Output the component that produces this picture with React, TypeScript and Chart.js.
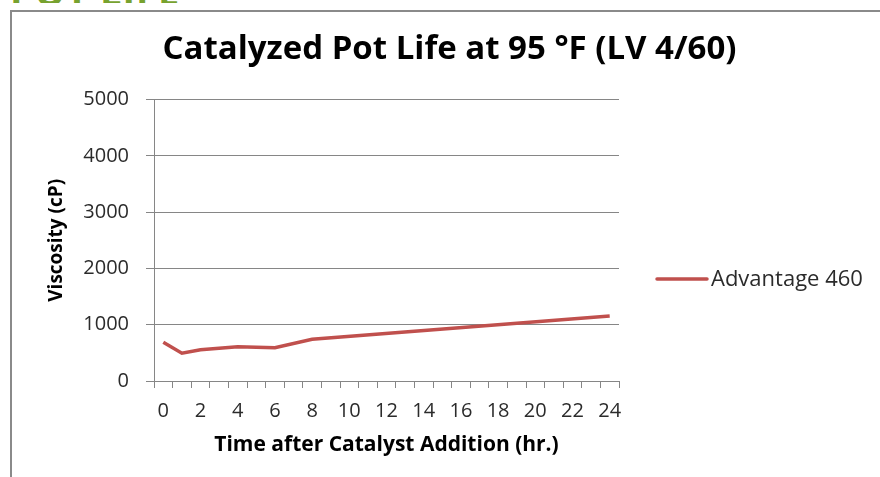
import React, { useEffect, useRef } from "react";
import { Chart, registerables } from "chart.js";

Chart.register(...registerables);

const hours: string[] = ["0","1","2","3","4","5","6","7","8","9","10","11","12","13","14","15","16","17","18","19","20","21","22","23","24"];
const viscosity: (number | null)[] = [690, 495, 555, null, 610, null, 590, null, 740, null, null, null, null, null, null, null, null, null, null, null, null, null, null, null, 1155];
const yTicks: number[] = [0, 1000, 2000, 3000, 4000, 5000];

const seriesName = "Advantage 460";
const chartTitle = "Catalyzed Pot Life at 95 °F (LV 4/60)";
const xTitle = "Time after Catalyst Addition (hr.)";
const yTitle = "Viscosity (cP)";

const FONT = "'Open Sans', sans-serif";
const AXIS = "#868686";

const legendPlugin = {
  id: "sideLegend",
  afterDraw(chart: any) {
    const { ctx, chartArea } = chart;
    const ds = chart.data.datasets[0];
    const y = 279;
    const x0 = chartArea.right + 38;
    ctx.save();
    ctx.strokeStyle = ds.borderColor;
    ctx.lineWidth = 3.5;
    ctx.lineCap = "round";
    ctx.beginPath();
    ctx.moveTo(x0, y);
    ctx.lineTo(x0 + 50, y);
    ctx.stroke();
    ctx.fillStyle = "#2b2b2b";
    ctx.font = `22px ${FONT}`;
    ctx.textBaseline = "middle";
    ctx.textAlign = "left";
    ctx.fillText(ds.label, x0 + 54, y + 1);
    ctx.restore();
  },
};

export default function App() {
  const ref = useRef<HTMLCanvasElement>(null);
  useEffect(() => {
    if (!ref.current) return;
    const chart = new Chart(ref.current, {
      type: "line",
      data: {
        labels: hours,
        datasets: [
          {
            label: seriesName,
            data: viscosity,
            borderColor: "#c0504d",
            backgroundColor: "#c0504d",
            borderWidth: 3.5,
            pointRadius: 0,
            spanGaps: true,
            tension: 0,
            xAxisID: "x",
            yAxisID: "y",
          },
        ],
      },
      options: {
        animation: false,
        responsive: false,
        layout: { padding: { left: 19, right: 0, top: 0, bottom: 0 } },
        plugins: {
          legend: { display: false },
          tooltip: { enabled: false },
          title: {
            display: true,
            text: chartTitle,
            color: "#000",
            font: { family: FONT, weight: "bold", size: 33 },
            padding: { top: 30, bottom: 30 },
          },
        },
        scales: {
          x: {
            type: "category",
            offset: true,
            grid: { offset: true, drawOnChartArea: false, drawTicks: true, tickLength: 7, color: AXIS },
            border: { color: AXIS, width: 1 },
            ticks: {
              autoSkip: false,
              maxRotation: 0,
              color: "#2b2b2b",
              font: { family: FONT, size: 20 },
              padding: 11,
              callback: (_v: any, i: number) => (i % 2 === 0 ? hours[i] : ""),
            },
            title: {
              display: true,
              text: xTitle,
              color: "#000",
              font: { family: FONT, weight: "bold", size: 21 },
              padding: { top: 0, bottom: 19 },
            },
            afterFit: (s: any) => { s.height = 96; },
          },
          y: {
            min: 0,
            max: 5000,
            afterBuildTicks: (s: any) => { s.ticks = yTicks.map((v) => ({ value: v })); },
            grid: { color: AXIS, tickLength: 8, drawTicks: true },
            border: { color: AXIS, width: 1 },
            ticks: {
              color: "#2b2b2b",
              font: { family: FONT, size: 20 },
              padding: 17,
              callback: (v: any) => String(v),
            },
            title: {
              display: true,
              text: yTitle,
              color: "#000",
              font: { family: FONT, weight: "bold", size: 19 },
              padding: { top: 26, bottom: 0 },
            },
            afterFit: (s: any) => { s.width = 135; },
          },
          yRight: {
            position: "right",
            display: true,
            min: 0,
            max: 1,
            grid: { display: false, drawTicks: false },
            border: { display: false },
            ticks: { display: false },
            afterFit: (s: any) => { s.width = 261; },
          },
        },
      },
      plugins: [legendPlugin],
    });
    return () => chart.destroy();
  }, []);

  return (
    <div style={{ position: "absolute", left: 0, top: 0, width: 880, height: 477, overflow: "hidden", background: "#fff" }}>
      <div
        style={{
          position: "absolute",
          left: 10,
          top: -28,
          fontFamily: FONT,
          fontWeight: 700,
          fontSize: 38,
          lineHeight: "38px",
          color: "#77a22f",
          letterSpacing: 1,
          whiteSpace: "nowrap",
          height: 31,
          overflow: "hidden",
        }}
      >
        POT LIFE
      </div>
      <div
        style={{
          position: "absolute",
          left: 10,
          top: 10,
          width: 900,
          height: 500,
          borderLeft: "2px solid #8a8a8a",
          borderTop: "2px solid #8a8a8a",
        }}
      />
      <canvas ref={ref} width={880} height={477} style={{ position: "absolute", left: 0, top: 0 }} />
    </div>
  );
}
